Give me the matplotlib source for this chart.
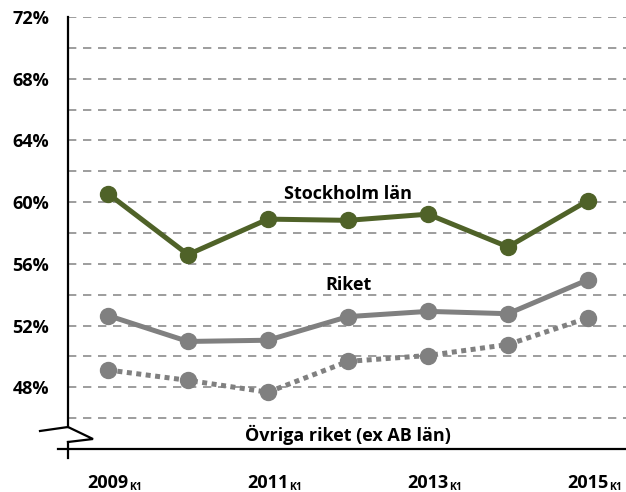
import matplotlib
matplotlib.use("Agg")
import matplotlib.pyplot as plt
from matplotlib.lines import Line2D

years = ["2009", "2010", "2011", "2012", "2013", "2014", "2015"]
tick_years = ["2009", "2011", "2013", "2015"]
stockholm = [60.55, 56.6, 58.9, 58.82, 59.22, 57.1, 60.1]
riket = [52.65, 50.97, 51.05, 52.58, 52.92, 52.77, 54.97]
ovriga = [49.12, 48.45, 47.68, 49.68, 50.06, 50.77, 52.5]
ytick_vals = [48, 52, 56, 60, 64, 68, 72]
series_labels = ["Stockholm län", "Riket", "Övriga riket (ex AB län)"]

plt.rcParams['font.family'] = ['Open Sans', 'DejaVu Sans']

W, H = 626, 492
fig = plt.figure(figsize=(W / 100, H / 100), dpi=100)
ax = fig.add_axes([68 / W, 1 - 449 / H, 1 - 68 / W, (449 - 17) / H])

x = list(range(len(years)))
green = "#4f6228"
gray = "#808080"

ax.set_xlim(-0.5, 6.475)
ax.set_ylim(44, 72)

# gridlines
for g in range(46, 73, 2):
    ax.axhline(g, color="#8c8c8c", lw=1.2, ls=(0, (5, 4)), zorder=1)

ax.plot(x, stockholm, color=green, lw=3.6, marker="o", ms=11.5, zorder=3)
ax.plot(x, riket, color=gray, lw=3.6, marker="o", ms=11.5, zorder=3)
ax.plot(x, ovriga, color=gray, lw=3.6, ls=(0, (1.0, 0.9)), marker="o", ms=11.5, zorder=3)

for s in ax.spines.values():
    s.set_visible(False)
ax.set_xticks([])
ax.set_yticks([])

FS = 13

# y tick labels
for v in ytick_vals:
    ax.annotate(f"{v}%", xy=(0, v), xycoords=("axes fraction", "data"),
                xytext=(-13.5, 0), textcoords="offset points",
                ha="right", va="center_baseline", fontsize=FS, fontweight="bold")

# x tick labels
for yr in tick_years:
    xi = years.index(yr)
    t = ax.annotate(yr, xy=(xi, 0), xycoords=("data", "axes fraction"),
                    xytext=(0, -28.1), textcoords="offset points",
                    ha="center", va="baseline", fontsize=FS, fontweight="bold")
    ax.annotate("K1", xy=(1, 0), xycoords=(t, "axes fraction"), xytext=(0.5, -29.5),
                textcoords="offset points", ha="left", va="baseline",
                fontsize=7.5, fontweight="bold")

# series labels
ax.text(3, 60.66, series_labels[0], ha="center", va="center_baseline", fontsize=FS, fontweight="bold")
ax.text(3, 54.76, series_labels[1], ha="center", va="center_baseline", fontsize=FS, fontweight="bold")
ax.text(3, 45.05, series_labels[2], ha="center", va="center_baseline", fontsize=FS, fontweight="bold")

# axes lines in pixel coords
def px(xp, yp):
    return (xp / W, 1 - yp / H)

def fline(pts, **kw):
    xs = [px(a, b)[0] for a, b in pts]
    ys = [px(a, b)[1] for a, b in pts]
    fig.add_artist(Line2D(xs, ys, transform=fig.transFigure, color="black", **kw))

fline([(68, 17), (68, 427)], lw=1.6)
fline([(40, 431), (68, 427), (93, 439), (68, 442)], lw=1.6, solid_joinstyle="miter")
fline([(68, 442), (68, 458)], lw=1.6)
fline([(58, 449), (626, 449)], lw=1.6)

fig.savefig("out.png", dpi=100)
